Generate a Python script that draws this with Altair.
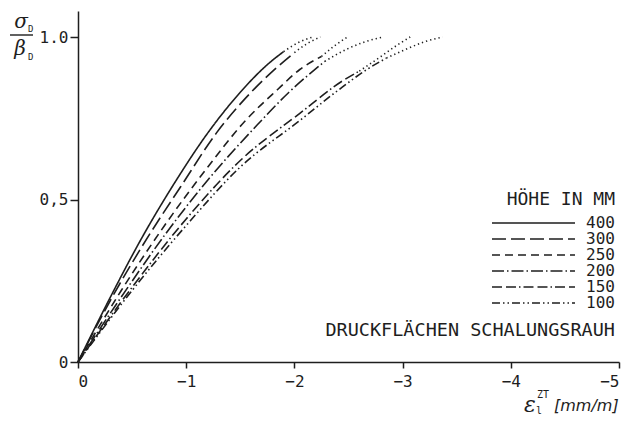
import altair as alt
import pandas as pd

# ---- data -------------------------------------------------------------
heights = ["400", "300", "250", "200", "150", "100"]

strain_main = {
    "400": [0, -0.3, -0.57, -0.9, -1.2, -1.5, -1.75, -1.9],
    "300": [0, -0.3, -0.6, -0.95, -1.28, -1.6, -1.8, -2.0],
    "250": [0, -0.4, -0.8, -1.2, -1.54, -1.85, -2.05, -2.25],
    "200": [0, -0.4, -0.8, -1.2, -1.63, -1.95, -2.28],
    "150": [0, -0.5, -1.0, -1.5, -2.05, -2.45, -2.6],
    "100": [0, -0.5, -1.0, -1.5, -2.05, -2.4, -2.67, -2.85],
}
stress_main = {
    "400": [0, 0.2, 0.37, 0.555, 0.705, 0.83, 0.915, 0.955],
    "300": [0, 0.19, 0.36, 0.54, 0.705, 0.83, 0.895, 0.952],
    "250": [0, 0.22, 0.42, 0.6, 0.74, 0.84, 0.9, 0.94],
    "200": [0, 0.2, 0.39, 0.56, 0.72, 0.83, 0.925],
    "150": [0, 0.23, 0.44, 0.62, 0.765, 0.866, 0.895],
    "100": [0, 0.22, 0.42, 0.6, 0.743, 0.835, 0.9, 0.935],
}
strain_tail = {
    "400": [-1.9, -2.05, -2.17],
    "300": [-2.0, -2.12, -2.24],
    "250": [-2.25, -2.38, -2.49],
    "200": [-2.28, -2.5, -2.65, -2.82],
    "150": [-2.6, -2.8, -2.95, -3.07],
    "100": [-2.85, -3.05, -3.2, -3.37],
}
stress_tail = {
    "400": [0.955, 0.985, 1.0],
    "300": [0.952, 0.98, 1.0],
    "250": [0.94, 0.975, 1.0],
    "200": [0.925, 0.965, 0.985, 1.0],
    "150": [0.895, 0.94, 0.975, 1.0],
    "100": [0.935, 0.965, 0.985, 1.0],
}

x_ticks = [0, -1, -2, -3, -4, -5]
y_ticks = [0, 0.5, 1.0]

# ---- styles ------------------------------------------------------------
INK = "#1e1e1e"
FONT = "DejaVu Sans Mono"
dash = {
    "400": [1, 0],
    "300": [14, 5],
    "250": [8, 5],
    "200": [12, 3, 1.5, 3],
    "150": [10, 4, 10, 3, 1.5, 3],
    "100": [8, 3, 1.5, 3, 1.5, 3],
}
dot = [1.3, 3]

W, H = 541, 351

xs = alt.Scale(domain=[0, -5], nice=False, zero=False)
ys = alt.Scale(domain=[0, 1.08], nice=False, zero=False)

x_axis = alt.Axis(values=x_ticks, format="d", title=None, grid=False,
                  tickSize=6, tickWidth=1.5, domainWidth=1.5,
                  domainColor=INK, tickColor=INK, labelColor=INK,
                  labelFont=FONT, labelFontSize=16, labelPadding=5)
y_axis = alt.Axis(values=y_ticks, title=None, grid=False,
                  labelExpr="datum.value == 0 ? '0' : (datum.value == 0.5 ? '0,5' : '1.0')",
                  tickSize=8, tickWidth=1.5, domainWidth=1.5,
                  domainColor=INK, tickColor=INK, labelColor=INK,
                  labelFont=FONT, labelFontSize=16, labelPadding=2)

X = alt.X("x:Q", scale=xs, axis=x_axis)
Y = alt.Y("y:Q", scale=ys, axis=y_axis)

layers = []
for h in heights:
    d_main = pd.DataFrame({"x": strain_main[h], "y": stress_main[h],
                           "i": range(len(strain_main[h]))})
    d_tail = pd.DataFrame({"x": strain_tail[h], "y": stress_tail[h],
                           "i": range(len(strain_tail[h]))})
    layers.append(alt.Chart(d_main).mark_line(
        color=INK, strokeWidth=1.6, strokeDash=dash[h], strokeCap="butt",
        interpolate="monotone"
    ).encode(x=X, y=Y, order="i:Q"))
    layers.append(alt.Chart(d_tail).mark_line(
        color=INK, strokeWidth=1.6, strokeDash=dot, strokeCap="butt",
        interpolate="monotone"
    ).encode(x=X, y=Y, order="i:Q"))

# ---- legend (drawn in pixel space) -------------------------------------
leg_top = 212
row_gap = 16
one = pd.DataFrame({"a": [0]})
layers.append(alt.Chart(one).mark_text(
    text="HÖHE IN MM", align="right", baseline="middle", font=FONT,
    fontSize=18, color=INK).encode(x=alt.value(537), y=alt.value(189)))
for k, h in enumerate(heights):
    yy = leg_top + k * row_gap
    layers.append(alt.Chart(one).mark_rule(
        color=INK, strokeWidth=1.6, strokeDash=dash[h], strokeCap="butt"
    ).encode(x=alt.value(414), x2=alt.value(497), y=alt.value(yy)))
    layers.append(alt.Chart(one).mark_text(
        text=h, align="right", baseline="middle", font=FONT, fontSize=16,
        color=INK).encode(x=alt.value(537), y=alt.value(yy)))
layers.append(alt.Chart(one).mark_text(
    text="DRUCKFLÄCHEN SCHALUNGSRAUH", align="right", baseline="middle",
    font=FONT, fontSize=18.5, color=INK).encode(x=alt.value(537), y=alt.value(319)))

# ---- axis titles --------------------------------------------------------
# y: sigma_D / beta_D fraction
layers.append(alt.Chart(one).mark_text(
    text="σ", align="center", baseline="middle", font="DejaVu Serif",
    fontStyle="italic", fontSize=20, color=INK).encode(x=alt.value(-57), y=alt.value(11)))
layers.append(alt.Chart(one).mark_text(
    text="D", align="left", baseline="middle", font=FONT,
    fontSize=9, color=INK).encode(x=alt.value(-50), y=alt.value(18)))
layers.append(alt.Chart(one).mark_rule(color=INK, strokeWidth=1.4).encode(
    x=alt.value(-68), x2=alt.value(-45), y=alt.value(24)))
layers.append(alt.Chart(one).mark_text(
    text="β", align="center", baseline="middle", font="DejaVu Serif",
    fontStyle="italic", fontSize=20, color=INK).encode(x=alt.value(-58), y=alt.value(38)))
layers.append(alt.Chart(one).mark_text(
    text="D", align="left", baseline="middle", font=FONT,
    fontSize=9, color=INK).encode(x=alt.value(-50), y=alt.value(46)))

# x: epsilon_l^ZT [mm/m]
layers.append(alt.Chart(one).mark_text(
    text="ε", align="center", baseline="middle", font="DejaVu Serif",
    fontStyle="italic", fontSize=22, color=INK).encode(x=alt.value(452), y=alt.value(394)))
layers.append(alt.Chart(one).mark_text(
    text="ZT", align="left", baseline="middle", font=FONT,
    fontSize=10, color=INK).encode(x=alt.value(459), y=alt.value(384)))
layers.append(alt.Chart(one).mark_text(
    text="l", align="left", baseline="middle", font=FONT,
    fontSize=10, color=INK).encode(x=alt.value(458), y=alt.value(400)))
layers.append(alt.Chart(one).mark_text(
    text="[mm/m]", align="left", baseline="middle", font="DejaVu Sans",
    fontStyle="italic", fontSize=16, color=INK).encode(x=alt.value(476), y=alt.value(395)))

chart = alt.layer(*layers).properties(
    width=W, height=H,
    autosize=alt.AutoSizeParams(type="none"),
    padding={"left": 70, "top": 3, "right": 10, "bottom": 55},
).configure(background="white").configure_view(stroke=None)

chart.save("out.html", embed_options={"renderer": "svg", "actions": False})
